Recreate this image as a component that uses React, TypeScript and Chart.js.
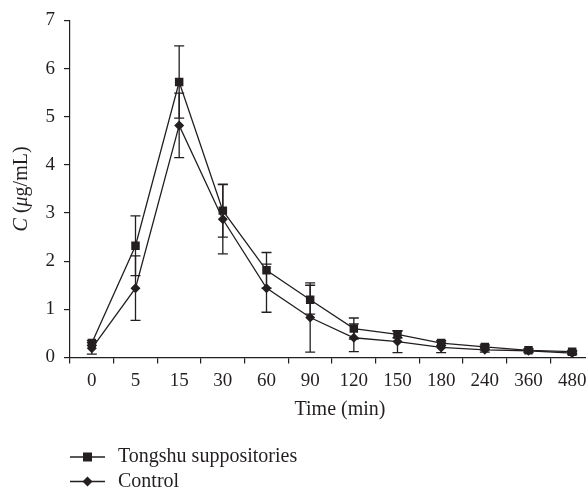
import React, { useEffect, useRef } from "react";
import { Chart, registerables } from "chart.js";

Chart.register(...registerables);

const categories = ["0", "5", "15", "30", "60", "90", "120", "150", "180", "240", "360", "480"];
const tongshu = [0.3, 2.32, 5.72, 3.05, 1.81, 1.2, 0.6, 0.48, 0.3, 0.22, 0.15, 0.12];
const tongshuSD = [0.05, 0.62, 0.75, 0.55, 0.37, 0.3, 0.22, 0.07, 0.05, 0.04, 0.03, 0.03];
const control = [0.19, 1.44, 4.82, 2.87, 1.44, 0.83, 0.41, 0.33, 0.21, 0.16, 0.14, 0.09];
const controlSD = [0.12, 0.67, 0.67, 0.72, 0.5, 0.72, 0.29, 0.23, 0.11, 0.05, 0.04, 0.03];
const seriesNames = ["Tongshu suppositories", "Control"];
const yMin = 0;
const yMax = 7;

const INK = "#231f20";
const FONT = "'Liberation Serif', 'Times New Roman', serif";

const errorBarPlugin = {
  id: "errorBars",
  beforeDatasetsDraw(chart: any) {
    const ctx = chart.ctx;
    const yScale = chart.scales.y;
    chart.data.datasets.forEach((ds: any, di: number) => {
      const meta = chart.getDatasetMeta(di);
      ctx.save();
      ctx.strokeStyle = INK;
      ctx.lineWidth = 1.3;
      meta.data.forEach((pt: any, i: number) => {
        const v = ds.data[i];
        const sd = ds.errors[i];
        const x = pt.x;
        const yTop = yScale.getPixelForValue(v + sd);
        const yBot = yScale.getPixelForValue(Math.max(0, v - sd));
        ctx.beginPath();
        ctx.moveTo(x, yTop);
        ctx.lineTo(x, yBot);
        ctx.moveTo(x - 5, yTop);
        ctx.lineTo(x + 5, yTop);
        ctx.moveTo(x - 5, yBot);
        ctx.lineTo(x + 5, yBot);
        ctx.stroke();
      });
      ctx.restore();
    });
  },
};

const textPlugin = {
  id: "customText",
  afterDraw(chart: any) {
    const ctx = chart.ctx;
    const area = chart.chartArea;
    ctx.save();
    ctx.fillStyle = INK;
    const segs: [string, boolean][] = [
      ["C", true],
      [" (", false],
      ["\u03bc", true],
      ["g/mL)", false],
    ];
    const fontFor = (it: boolean) => `${it ? "italic " : ""}20px ${FONT}`;
    let total = 0;
    const widths = segs.map(([t, it]) => {
      ctx.font = fontFor(it);
      const w = ctx.measureText(t).width;
      total += w;
      return w;
    });
    ctx.translate(22, (area.top + area.bottom) / 2);
    ctx.rotate(-Math.PI / 2);
    ctx.textBaseline = "middle";
    ctx.textAlign = "left";
    let x = -total / 2;
    segs.forEach(([t, it], i) => {
      ctx.font = fontFor(it);
      ctx.fillText(t, x, 0);
      x += widths[i];
    });
    ctx.setTransform(1, 0, 0, 1, 0, 0);

    ctx.font = `20px ${FONT}`;
    ctx.textAlign = "center";
    ctx.textBaseline = "middle";
    ctx.fillText("Time (min)", 340, 410);

    chart.data.datasets.forEach((ds: any, i: number) => {
      const y = 457 + i * 24.5;
      ctx.strokeStyle = INK;
      ctx.lineWidth = 1.3;
      ctx.beginPath();
      ctx.moveTo(70, y);
      ctx.lineTo(105, y);
      ctx.stroke();
      ctx.fillStyle = INK;
      ctx.beginPath();
      if (ds.pointStyle === "rect") {
        ctx.rect(87.5 - 4.5, y - 4.5, 9, 9);
      } else {
        ctx.moveTo(87.5, y - 5);
        ctx.lineTo(92.5, y);
        ctx.lineTo(87.5, y + 5);
        ctx.lineTo(82.5, y);
        ctx.closePath();
      }
      ctx.fill();
      ctx.font = `20px ${FONT}`;
      ctx.textAlign = "left";
      ctx.textBaseline = "middle";
      ctx.fillText(ds.label, 118, y);
    });
    ctx.restore();
  },
};

export default function App() {
  const ref = useRef<HTMLCanvasElement | null>(null);
  useEffect(() => {
    if (!ref.current) return;
    const chart = new Chart(ref.current, {
      type: "line",
      data: {
        labels: categories,
        datasets: [
          {
            label: seriesNames[0],
            data: tongshu,
            errors: tongshuSD,
            borderColor: INK,
            backgroundColor: INK,
            borderWidth: 1.3,
            pointStyle: "rect",
            pointRadius: 6,
            pointBorderWidth: 0,
            pointBackgroundColor: INK,
            tension: 0,
          } as any,
          {
            label: seriesNames[1],
            data: control,
            errors: controlSD,
            borderColor: INK,
            backgroundColor: INK,
            borderWidth: 1.3,
            pointStyle: "rectRot",
            pointRadius: 5,
            pointBorderWidth: 0,
            pointBackgroundColor: INK,
            tension: 0,
          } as any,
        ],
      },
      options: {
        responsive: false,
        animation: false,
        layout: { padding: { top: 20, right: 6, bottom: 66, left: 0 } },
        plugins: { legend: { display: false }, tooltip: { enabled: false } },
        scales: {
          x: {
            type: "category",
            offset: true,
            grid: {
              offset: true,
              drawOnChartArea: false,
              drawTicks: true,
              tickLength: 6,
              color: INK,
              lineWidth: 1.2,
            },
            border: { display: true, color: INK, width: 1.2 },
            ticks: {
              color: INK,
              font: { family: FONT, size: 19 },
              padding: 6,
              maxRotation: 0,
              autoSkip: false,
            },
            afterFit: (s: any) => {
              s.height = 67.5;
            },
          },
          y: {
            min: yMin,
            max: yMax,
            grid: {
              drawOnChartArea: false,
              drawTicks: true,
              tickLength: 6,
              color: INK,
              lineWidth: 1.2,
            },
            border: { display: true, color: INK, width: 1.2 },
            ticks: {
              stepSize: 1,
              color: INK,
              font: { family: FONT, size: 19 },
              padding: 9,
            },
            afterFit: (s: any) => {
              s.width = 70;
            },
          },
        },
      } as any,
      plugins: [errorBarPlugin, textPlugin],
    });
    return () => chart.destroy();
  }, []);
  return (
    <div
      style={{
        position: "fixed",
        left: 0,
        top: 0,
        width: 586,
        height: 491,
        overflow: "hidden",
        background: "#fff",
      }}
    >
      <canvas ref={ref} width={600} height={491} style={{ display: "block", width: 600, height: 491 }} />
    </div>
  );
}
